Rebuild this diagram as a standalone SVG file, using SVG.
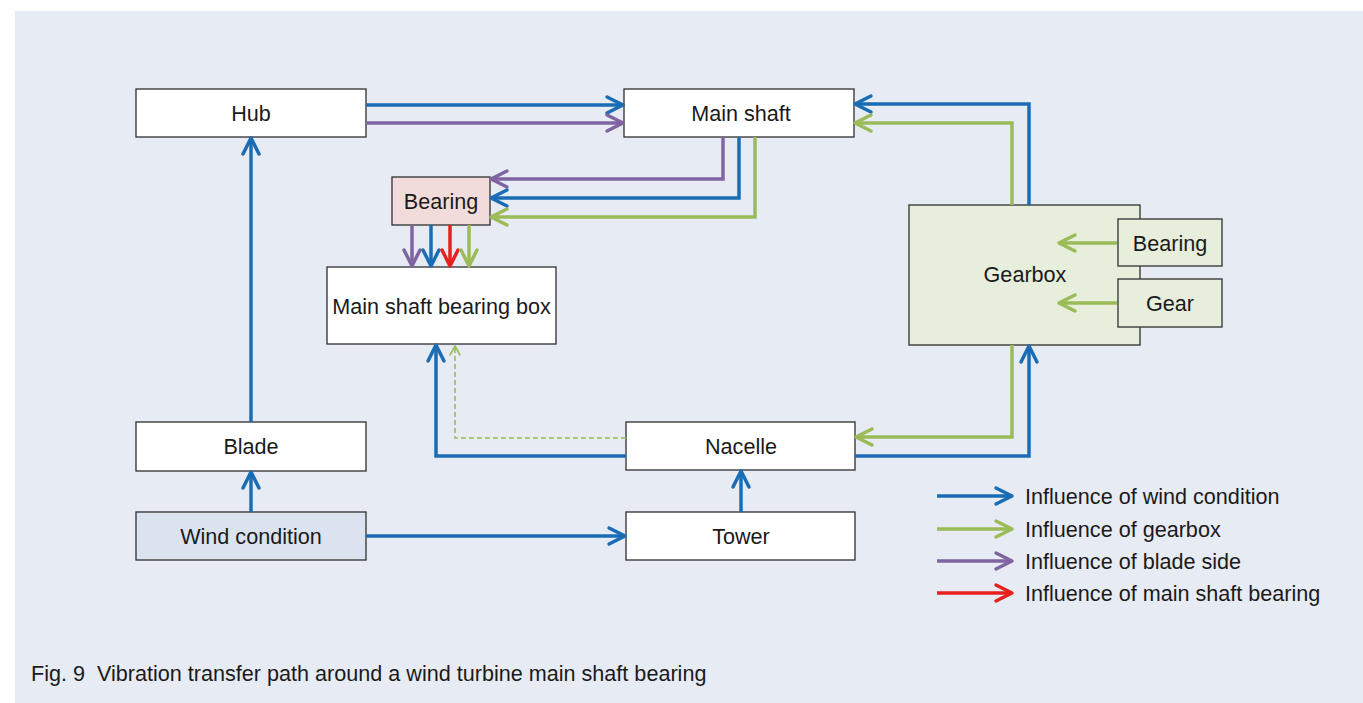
<svg xmlns="http://www.w3.org/2000/svg" width="1363" height="703" viewBox="0 0 1363 703">
<style>
.box{stroke:#3c3c3c;stroke-width:1.4}
.w{fill:#ffffff}
.pink{fill:#f2dcdb}
.gb{fill:#e7eedb}
.wind{fill:#dce3f0}
text{font-family:"Liberation Sans",Arial,Helvetica,sans-serif;font-size:21.6px;fill:#1a1a1a}
.c{text-anchor:middle}
.ln{fill:none;stroke-width:3.5;stroke-linejoin:miter}
.bl{stroke:#1a6cb4;marker-end:url(#aB)}
.gr{stroke:#9bbb59;marker-end:url(#aG)}
.pu{stroke:#8064a2;marker-end:url(#aP)}
.rd{stroke:#e8211d;marker-end:url(#aR)}
.dash{fill:none;stroke:#9bbb59;stroke-width:1.6;stroke-dasharray:5 3;marker-end:url(#aD)}
</style>
<defs>
<marker id="aB" markerUnits="userSpaceOnUse" viewBox="-20 -12 24 24" refX="0" refY="0" markerWidth="24" markerHeight="24" orient="auto" overflow="visible"><path d="M-16,-8 L0,0 L-16,8" fill="none" stroke="#1a6cb4" stroke-width="3.5" stroke-linecap="round" stroke-linejoin="round"/></marker>
<marker id="aG" markerUnits="userSpaceOnUse" viewBox="-20 -12 24 24" refX="0" refY="0" markerWidth="24" markerHeight="24" orient="auto" overflow="visible"><path d="M-16,-8 L0,0 L-16,8" fill="none" stroke="#9bbb59" stroke-width="3.5" stroke-linecap="round" stroke-linejoin="round"/></marker>
<marker id="aP" markerUnits="userSpaceOnUse" viewBox="-20 -12 24 24" refX="0" refY="0" markerWidth="24" markerHeight="24" orient="auto" overflow="visible"><path d="M-16,-8 L0,0 L-16,8" fill="none" stroke="#8064a2" stroke-width="3.5" stroke-linecap="round" stroke-linejoin="round"/></marker>
<marker id="aR" markerUnits="userSpaceOnUse" viewBox="-20 -12 24 24" refX="0" refY="0" markerWidth="24" markerHeight="24" orient="auto" overflow="visible"><path d="M-16,-8 L0,0 L-16,8" fill="none" stroke="#e8211d" stroke-width="3.5" stroke-linecap="round" stroke-linejoin="round"/></marker>
<marker id="aD" markerUnits="userSpaceOnUse" viewBox="-12 -8 14 16" refX="0" refY="0" markerWidth="14" markerHeight="16" orient="auto" overflow="visible"><path d="M-9,-5 L0,0 L-9,5" fill="none" stroke="#9bbb59" stroke-width="1.6" stroke-linecap="round"/></marker>
</defs>
<rect x="0" y="0" width="1363" height="703" fill="#ffffff"/>
<rect x="15" y="11" width="1348" height="692" fill="#e7ebf4"/>

<g id="hub"><rect class="box w" x="136" y="89" width="230" height="48"/><text class="c" x="251" y="120.5">Hub</text></g>
<g id="main-shaft"><rect class="box w" x="624" y="89" width="230" height="48"/><text class="c" x="741" y="120.5">Main shaft</text></g>
<g id="bearing"><rect class="box pink" x="392" y="177" width="98" height="48"/><text class="c" x="441" y="208.5">Bearing</text></g>
<g id="main-shaft-bearing-box"><rect class="box w" x="327" y="267" width="229" height="77"/><text class="c" x="441.5" y="313.5">Main shaft bearing box</text></g>
<g id="gearbox"><rect class="box gb" x="909" y="205" width="231" height="140"/><text class="c" x="1025" y="282">Gearbox</text></g>
<g id="gearbox-bearing"><rect class="box gb" x="1118" y="219" width="104" height="47"/><text class="c" x="1170" y="250.5">Bearing</text></g>
<g id="gear"><rect class="box gb" x="1118" y="279" width="104" height="48"/><text class="c" x="1170" y="310.5">Gear</text></g>
<g id="blade"><rect class="box w" x="136" y="422" width="230" height="49"/><text class="c" x="251" y="454">Blade</text></g>
<g id="nacelle"><rect class="box w" x="626" y="422" width="229" height="48"/><text class="c" x="741" y="454">Nacelle</text></g>
<g id="wind-condition"><rect class="box wind" x="136" y="512" width="230" height="48"/><text class="c" x="251" y="543.5">Wind condition</text></g>
<g id="tower"><rect class="box w" x="626" y="512" width="229" height="48"/><text class="c" x="741" y="543.5">Tower</text></g>

<g id="connectors">
<path class="ln bl" d="M366,105 H623"/>
<path class="ln pu" d="M366,123 H623"/>
<path class="ln pu" d="M723,137 V179 H491"/>
<path class="ln bl" d="M739,137 V198 H491"/>
<path class="ln gr" d="M755,137 V217 H491"/>
<path class="ln pu" d="M412,225 V266"/>
<path class="ln bl" d="M431,225 V266"/>
<path class="ln rd" d="M450,225 V266"/>
<path class="ln gr" d="M469,225 V266"/>
<path class="ln bl" d="M1029,205 V104 H855"/>
<path class="ln gr" d="M1012,205 V123 H855"/>
<path class="ln gr" d="M1117,243 H1059"/>
<path class="ln gr" d="M1117,303 H1059"/>
<path class="ln gr" d="M1012,345 V437 H856"/>
<path class="ln bl" d="M855,456 H1029 V346"/>
<path class="ln bl" d="M626,456 H436 V345"/>
<path class="dash" d="M626,438 H455 V346"/>
<path class="ln bl" d="M741,512 V471"/>
<path class="ln bl" d="M366,536 H625"/>
<path class="ln bl" d="M251,512 V472"/>
<path class="ln bl" d="M251,422 V138"/>
</g>

<g id="legend">
<path class="ln bl" d="M937,496 H1012"/>
<path class="ln gr" d="M937,529 H1012"/>
<path class="ln pu" d="M937,561 H1012"/>
<path class="ln rd" d="M937,593 H1012"/>
<text x="1025" y="503.5">Influence of wind condition</text>
<text x="1025" y="536.5">Influence of gearbox</text>
<text x="1025" y="568.5">Influence of blade side</text>
<text x="1025" y="600.5">Influence of main shaft bearing</text>
</g>
<text x="31" y="681" xml:space="preserve" style="white-space:pre">Fig. 9  Vibration transfer path around a wind turbine main shaft bearing</text>
</svg>
